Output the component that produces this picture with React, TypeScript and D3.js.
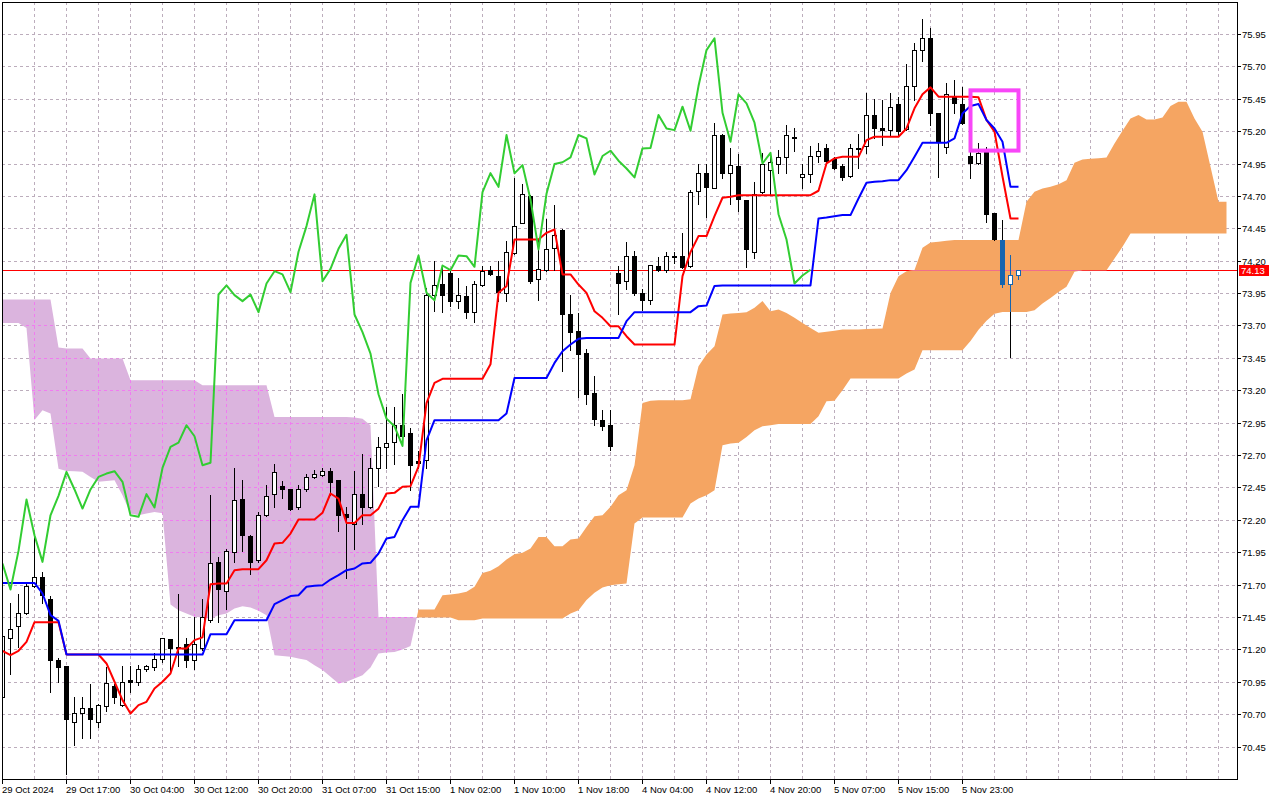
import * as d3 from "d3";

// hourly candles, 29 Oct 2024 .. 5 Nov 2024
const opens = [
  70.83, 71.29, 71.38, 71.48, 71.69, 71.755, 71.59, 71.12, 71.07, 70.636,
  70.705, 70.744, 70.641, 70.762, 70.916, 70.769, 70.967, 70.95, 71.052, 71.065,
  71.122, 71.276, 71.218, 71.24, 71.117, 71.207, 71.43, 71.875, 71.652, 71.953,
  72.364, 72.073, 71.888, 72.235, 72.398, 72.462, 72.434, 72.295, 72.434, 72.531,
  72.544, 72.575, 72.506, 72.243, 72.171, 72.398, 72.3, 72.6, 72.763, 72.8,
  72.93, 72.871, 72.65, 72.66, 73.939, 74.024, 74.106, 73.888, 73.931, 73.803,
  74.009, 74.127, 74.081, 73.952, 74.261, 74.493, 74.7, 74.06, 74.132, 74.3,
  74.435, 73.792, 73.656, 73.488, 73.179, 72.974, 72.93, 74.106, 74.042, 74.24,
  73.952, 73.895, 74.158, 74.127, 74.24, 74.235, 74.158, 74.737, 74.88, 74.765,
  75.17, 74.88, 74.93, 74.668, 74.269, 74.73, 74.9, 74.946, 74.997, 75.157,
  74.843, 74.869, 75.008, 75.067, 74.982, 74.93, 74.853, 75.065, 75.085, 75.324,
  75.226, 75.208, 75.409, 75.214, 75.548, 75.826, 75.917, 75.337, 75.075, 75.474,
  75.409, 75.008, 74.951, 75.059, 74.565, 74.359, 74.019, 74.09,
];
const highs = [
  71.35, 71.56, 71.63, 71.72, 72.07, 71.8, 71.61, 71.13, 71.07, 70.83,
  70.834, 70.932, 70.78, 71.06, 70.932, 71.07, 71.07, 71.078, 71.078, 71.173,
  71.29, 71.28, 71.626, 71.284, 71.446, 71.585, 72.39, 71.914, 71.978, 72.596,
  72.511, 72.08, 72.26, 72.467, 72.634, 72.5, 72.44, 72.467, 72.552, 72.583,
  72.6, 72.596, 72.51, 72.295, 72.578, 72.711, 72.68, 72.84, 73.071, 73.07,
  73.17, 72.912, 72.732, 73.99, 74.197, 74.158, 74.12, 74.068, 74.003, 74.042,
  74.158, 74.158, 74.197, 74.351, 74.84, 74.789, 74.71, 74.364, 74.519, 74.63,
  74.445, 73.939, 73.797, 73.519, 73.313, 73.046, 73.051, 74.158, 74.343, 74.274,
  73.978, 74.163, 74.23, 74.266, 74.27, 74.415, 74.745, 74.95, 74.95, 75.265,
  75.175, 75.067, 75.023, 74.67, 74.81, 75.03, 75.04, 75.054, 75.247, 75.221,
  74.95, 75.085, 75.105, 75.1, 75.0, 74.95, 75.1, 75.177, 75.497, 75.445,
  75.44, 75.492, 75.46, 75.718, 75.883, 76.063, 76.0, 75.34, 75.574, 75.595,
  75.538, 75.067, 75.105, 75.08, 74.57, 74.513, 74.243, 74.132,
];
const lows = [
  70.8, 71.01, 71.22, 71.47, 71.68, 71.56, 70.87, 70.95, 70.24, 70.46,
  70.512, 70.512, 70.597, 70.723, 70.782, 70.76, 70.872, 70.924, 71.034, 71.04,
  71.104, 71.014, 71.07, 71.065, 71.045, 71.194, 71.41, 71.41, 71.515, 71.875,
  71.96, 71.785, 71.875, 72.23, 72.3, 72.372, 72.274, 72.287, 72.423, 72.525,
  72.54, 72.39, 72.115, 71.747, 71.971, 72.166, 72.29, 72.459, 72.6, 72.634,
  72.79, 72.428, 72.596, 72.596, 73.81, 73.803, 73.854, 73.836, 73.759, 73.725,
  74.003, 74.09, 73.888, 73.888, 74.248, 74.49, 74.029, 73.9, 74.119, 74.132,
  73.347, 73.514, 73.15, 73.097, 72.93, 72.891, 72.737, 73.785, 73.978, 73.939,
  73.823, 73.862, 74.12, 74.112, 74.18, 74.145, 74.15, 74.64, 74.54, 74.76,
  74.835, 74.637, 74.585, 74.153, 74.22, 74.72, 74.706, 74.879, 74.874, 75.049,
  74.758, 74.81, 74.964, 74.965, 74.905, 74.822, 74.85, 74.912, 75.033, 75.144,
  75.092, 75.162, 75.17, 75.21, 75.44, 75.744, 75.247, 74.848, 75.033, 75.337,
  75.255, 74.835, 74.946, 74.5, 74.359, 73.998, 73.457, 74.055,
];
const closes = [
  71.3, 71.36, 71.48, 71.69, 71.755, 71.62, 71.12, 71.065, 70.66, 70.705,
  70.744, 70.659, 70.769, 70.944, 70.829, 70.95, 70.95, 71.052, 71.073, 71.122,
  71.284, 71.207, 71.207, 71.117, 71.24, 71.446, 71.863, 71.662, 71.96, 72.356,
  72.081, 71.875, 72.235, 72.385, 72.57, 72.434, 72.287, 72.434, 72.531, 72.557,
  72.575, 72.493, 72.235, 72.223, 72.398, 72.295, 72.6, 72.763, 72.796, 72.93,
  72.845, 72.621, 72.64, 73.939, 74.009, 73.934, 73.888, 73.939, 73.803, 74.024,
  74.119, 74.094, 73.957, 74.269, 74.467, 74.712, 74.042, 74.137, 74.292, 74.4,
  73.785, 73.648, 73.483, 73.169, 72.981, 72.922, 72.77, 74.029, 74.24, 73.952,
  73.895, 74.163, 74.127, 74.24, 74.235, 74.153, 74.73, 74.876, 74.77, 75.17,
  74.874, 74.938, 74.673, 74.287, 74.716, 74.946, 74.96, 74.997, 75.17, 75.144,
  74.866, 75.008, 75.049, 74.972, 74.912, 74.843, 75.067, 75.07, 75.324, 75.221,
  75.208, 75.389, 75.203, 75.548, 75.826, 75.917, 75.342, 75.118, 75.484, 75.414,
  75.265, 74.951, 75.033, 74.559, 74.364, 74.024, 74.086, 74.13,
];

// Ichimoku lines
const tenkan = [
  71.189, 71.155, 71.189, 71.258, 71.41, 71.41, 71.41, 71.41, 71.16, 71.16,
  71.16, 71.16, 71.16, 71.091, 70.95, 70.808, 70.705, 70.769, 70.795, 70.898,
  70.95, 71.014, 71.207, 71.207, 71.271, 71.292, 71.703, 71.708, 71.708, 71.811,
  71.819, 71.819, 71.819, 71.888, 72.017, 72.022, 72.094, 72.202, 72.202, 72.202,
  72.254, 72.403, 72.364, 72.176, 72.176, 72.235, 72.235, 72.286, 72.403, 72.408,
  72.455, 72.459, 72.61, 73.1, 73.257, 73.288, 73.288, 73.288, 73.288, 73.288,
  73.288, 73.4, 73.952, 74.003, 74.364, 74.364, 74.364, 74.364, 74.415, 74.441,
  74.094, 74.094, 74.016, 73.952, 73.81, 73.759, 73.694, 73.694, 73.617, 73.553,
  73.553, 73.553, 73.553, 73.553, 73.553, 74.081, 74.266, 74.39, 74.39, 74.544,
  74.686, 74.693, 74.706, 74.706, 74.706, 74.706, 74.706, 74.706, 74.706, 74.706,
  74.706, 74.706, 74.74, 74.951, 74.99, 75.002, 75.002, 75.002, 75.131, 75.157,
  75.157, 75.157, 75.157, 75.221, 75.376, 75.484, 75.538, 75.466, 75.466, 75.466,
  75.466, 75.466, 75.461, 75.286, 75.196, 74.85, 74.526, 74.526,
];
const kijun = [
  71.713, 71.713, 71.713, 71.713, 71.713, 71.631, 71.464, 71.42, 71.16, 71.16,
  71.16, 71.16, 71.16, 71.16, 71.16, 71.16, 71.16, 71.16, 71.16, 71.16,
  71.16, 71.16, 71.16, 71.16, 71.16, 71.16, 71.317, 71.317, 71.317, 71.425,
  71.425, 71.425, 71.425, 71.425, 71.549, 71.58, 71.611, 71.618, 71.683, 71.69,
  71.695, 71.739, 71.773, 71.811, 71.824, 71.863, 71.868, 71.94, 72.056, 72.068,
  72.197, 72.3, 72.3, 72.814, 72.969, 72.969, 72.969, 72.969, 72.969, 72.969,
  72.969, 72.969, 72.969, 73.02, 73.295, 73.295, 73.295, 73.295, 73.295, 73.411,
  73.501, 73.553, 73.597, 73.604, 73.604, 73.604, 73.604, 73.604, 73.733, 73.803,
  73.803, 73.803, 73.803, 73.803, 73.803, 73.803, 73.803, 73.849, 73.854, 74.005,
  74.009, 74.009, 74.009, 74.009, 74.009, 74.009, 74.009, 74.009, 74.009, 74.009,
  74.009, 74.009, 74.526, 74.534, 74.544, 74.552, 74.552, 74.68, 74.802, 74.81,
  74.814, 74.822, 74.822, 74.899, 75.002, 75.11, 75.11, 75.11, 75.11, 75.144,
  75.337, 75.394, 75.409, 75.286, 75.221, 75.118, 74.77, 74.77,
];
// senkou spans, 26 bars past the last candle
const spanA = [
  73.72, 73.72, 73.72, 73.68, 72.97, 73.046, 73.02, 72.595, 72.577, 72.575,
  72.57, 72.531, 72.493, 72.5, 72.506, 72.39, 72.248, 72.235, 72.248, 72.26,
  72.25, 71.547, 71.502, 71.477, 71.451, 71.446, 71.438, 71.464, 71.477, 71.515,
  71.533, 71.523, 71.497, 71.464, 71.155, 71.148, 71.142, 71.13, 71.117, 71.078,
  71.04, 70.988, 70.937, 70.95, 70.975, 71.0, 71.06, 71.168, 71.175, 71.18,
  71.199, 71.225, 71.508, 71.508, 71.508, 71.618, 71.623, 71.631, 71.644, 71.683,
  71.79, 71.806, 71.842, 71.893, 71.935, 71.945, 71.978, 72.068, 72.068, 71.996,
  71.996, 72.048, 72.055, 72.145, 72.228, 72.236, 72.3, 72.39, 72.428, 72.621,
  73.102, 73.118, 73.123, 73.123, 73.123, 73.123, 73.13, 73.385, 73.476, 73.54,
  73.785, 73.792, 73.797, 73.803, 73.836, 73.888, 73.81, 73.823, 73.797, 73.759,
  73.72, 73.68, 73.643, 73.652, 73.66, 73.669, 73.669, 73.669, 73.672, 73.675,
  73.676, 73.95, 74.08, 74.118, 74.128, 74.3, 74.34, 74.346, 74.354, 74.359,
  74.359, 74.359, 74.359, 74.359, 74.359, 74.359, 74.359, 74.359, 74.655, 74.732,
  74.758, 74.771, 74.791, 74.822, 74.956, 74.982, 74.987, 74.99, 74.997, 75.105,
  75.203, 75.298, 75.324, 75.29, 75.29, 75.306, 75.394, 75.427, 75.427, 75.298,
  75.196, 74.925, 74.655, 74.655,
];
const spanB = [
  73.9, 73.9, 73.9, 73.9, 73.9, 73.9, 73.9, 73.53, 73.522, 73.522,
  73.522, 73.445, 73.445, 73.445, 73.445, 73.445, 73.277, 73.277, 73.277, 73.277,
  73.277, 73.277, 73.277, 73.277, 73.277, 73.239, 73.239, 73.239, 73.239, 73.239,
  73.239, 73.239, 73.239, 73.239, 72.994, 72.994, 72.994, 72.994, 72.994, 72.994,
  72.994, 72.994, 72.994, 72.994, 72.99, 72.98, 72.93, 71.449, 71.449, 71.449,
  71.449, 71.449, 71.446, 71.446, 71.446, 71.446, 71.446, 71.425, 71.425, 71.425,
  71.438, 71.438, 71.438, 71.438, 71.438, 71.438, 71.438, 71.438, 71.438, 71.438,
  71.438, 71.477, 71.502, 71.58, 71.636, 71.677, 71.695, 71.703, 71.708, 72.171,
  72.218, 72.218, 72.218, 72.218, 72.218, 72.218, 72.326, 72.364, 72.39, 72.428,
  72.776, 72.788, 72.794, 72.84, 72.891, 72.922, 72.93, 72.94, 72.94, 72.94,
  72.94, 72.94, 73.0, 73.115, 73.118, 73.2, 73.29, 73.29, 73.29, 73.29,
  73.29, 73.29, 73.29, 73.33, 73.36, 73.509, 73.509, 73.509, 73.509, 73.509,
  73.509, 73.58, 73.667, 73.737, 73.79, 73.805, 73.805, 73.805, 73.805, 73.818,
  73.869, 73.913, 73.959, 73.998, 74.114, 74.127, 74.127, 74.127, 74.127, 74.217,
  74.307, 74.41, 74.41, 74.41, 74.41, 74.41, 74.41, 74.41, 74.41, 74.41,
  74.41, 74.41, 74.41, 74.41,
];
const chikouShift = 26;

const timeLabels = [
  "29 Oct 2024", "29 Oct 17:00", "30 Oct 04:00", "30 Oct 12:00", "30 Oct 20:00",
  "31 Oct 07:00", "31 Oct 15:00", "1 Nov 02:00", "1 Nov 10:00", "1 Nov 18:00",
  "4 Nov 04:00", "4 Nov 12:00", "4 Nov 20:00", "5 Nov 07:00", "5 Nov 15:00", "5 Nov 23:00",
];
const labelEvery = 8;
const priceTicks = [
  70.45, 70.7, 70.95, 71.2, 71.45, 71.7, 71.95, 72.2, 72.45, 72.7, 72.95, 73.2,
  73.45, 73.7, 73.95, 74.2, 74.45, 74.7, 74.95, 75.2, 75.45, 75.7, 75.95,
];
const bidPrice = 74.13;
const highlightBars = [125, 126, 127];
const markBox = { from: 121, to: 127, top: 75.515, bottom: 75.05 };

const font = "'Liberation Sans', Arial, sans-serif";
const left = 2, top = 2, right = 1237, bottom = 779;

type Pt = { i: number; a: number; b: number };

// split the cloud where the spans cross
function cloudPieces(a: number[], b: number[]) {
  const pieces: { up: boolean; pts: Pt[] }[] = [];
  let cur = { up: a[0] >= b[0], pts: [{ i: 0, a: a[0], b: b[0] }] as Pt[] };
  for (let k = 1; k < a.length; k++) {
    const up = a[k] >= b[k];
    if (up !== cur.up) {
      const d0 = a[k - 1] - b[k - 1];
      const d1 = a[k] - b[k];
      const t = d0 / (d0 - d1);
      const v = a[k - 1] + t * (a[k] - a[k - 1]);
      const p = { i: k - 1 + t, a: v, b: v };
      cur.pts.push(p);
      pieces.push(cur);
      cur = { up, pts: [p] };
    }
    cur.pts.push({ i: k, a: a[k], b: b[k] });
  }
  pieces.push(cur);
  return pieces;
}

function Candle({ i, color, x, y }: { i: number; color: string; x: any; y: any }) {
  const o = opens[i], c = closes[i];
  const cx = x(i);
  const t = Math.round(y(Math.max(o, c)));
  const b = Math.round(y(Math.min(o, c)));
  const h = Math.max(b - t, 1);
  return (
    <g>
      <line x1={cx} x2={cx} y1={Math.round(y(highs[i]))} y2={Math.round(y(lows[i])) + 1} stroke={color} />
      {c >= o ? (
        <rect x={cx - 2} y={t + 0.5} width={4} height={h} fill="#fff" stroke={color} />
      ) : (
        <rect x={cx - 2.5} y={t} width={5} height={h + 1} fill={color} />
      )}
    </g>
  );
}

export default function App() {
  const x = d3.scaleLinear().domain([0, 154]).range([2.5, 2.5 + 154 * 8]);
  const y = d3.scaleLinear().domain([70.45, 75.95]).range([746.5, 34]);

  const pieces = cloudPieces(spanA, spanB);
  const area = d3.area<Pt>().x((d) => x(d.i)).y0((d) => y(d.a)).y1((d) => y(d.b));
  const line = (vals: number[]) =>
    d3.line<number>().x((_, i) => x(i)).y((d) => y(d))(vals) || "";
  const chikou = closes.slice(chikouShift);

  const gridBars = d3.range(4, 154, 4);
  const hy = (p: number) => Math.round(y(p)) + 0.5;
  const bidY = hy(bidPrice);

  const grid = (color: string) => (
    <g stroke={color} strokeDasharray="3,3" shapeRendering="crispEdges">
      {priceTicks.map((p) => (
        <line key={`h${p}`} x1={left} x2={right} y1={hy(p)} y2={hy(p)} />
      ))}
      {gridBars.map((b) => (
        <line key={`v${b}`} x1={x(b)} x2={x(b)} y1={top} y2={bottom} />
      ))}
    </g>
  );

  return (
    <svg
      width={1280}
      height={800}
      style={{ position: "absolute", left: 0, top: 0, background: "#fff" }}
      fontFamily={font}
    >
      <defs>
        <clipPath id="plot">
          <rect x={left} y={top} width={right - left} height={bottom - top} />
        </clipPath>
        <clipPath id="cloud">
          {pieces.map((p, k) => <path key={k} d={area(p.pts) || ""} />)}
        </clipPath>
        <clipPath id="cloudDown">
          {pieces.filter((p) => !p.up).map((p, k) => <path key={k} d={area(p.pts) || ""} />)}
        </clipPath>
      </defs>

      <rect width={1280} height={800} fill="#fff" />

      <g clipPath="url(#plot)">
        {grid("#bcadbc")}
        <line x1={left} x2={right} y1={bidY} y2={bidY} stroke="#ff0000" shapeRendering="crispEdges" />

        {pieces.map((p, k) => (
          <path key={k} d={area(p.pts) || ""} fill={p.up ? "#f5a562" : "#dbb4de"} />
        ))}
        <g clipPath="url(#cloudDown)">{grid("#f07cf0")}</g>
        <g clipPath="url(#cloud)">
          <line x1={left} x2={right} y1={bidY} y2={bidY} stroke="#f06e8c" shapeRendering="crispEdges" />
        </g>

        <g shapeRendering="crispEdges">
          {opens.map((_, i) => <Candle key={i} i={i} color="#000" x={x} y={y} />)}
        </g>
        <g clipPath="url(#cloud)" shapeRendering="crispEdges">
          {highlightBars.map((i) => <Candle key={i} i={i} color="#1565b0" x={x} y={y} />)}
        </g>

        <g fill="none" strokeWidth={2} strokeLinejoin="round">
          <path d={line(tenkan)} stroke="#ff0000" />
          <path d={line(kijun)} stroke="#0000ff" />
          <path d={line(chikou)} stroke="#32cd32" />
        </g>

        <rect
          x={x(markBox.from)}
          y={y(markBox.top)}
          width={x(markBox.to) - x(markBox.from)}
          height={y(markBox.bottom) - y(markBox.top)}
          fill="none"
          stroke="#f846f8"
          strokeWidth={4}
        />
      </g>

      <rect x={left + 0.5} y={top + 0.5} width={right - left} height={bottom - top} fill="none" stroke="#000" shapeRendering="crispEdges" />

      <g fontSize={9.5} fill="#000">
        {priceTicks.map((p) => (
          <g key={p}>
            <line x1={right} x2={right + 4} y1={hy(p)} y2={hy(p)} stroke="#000" shapeRendering="crispEdges" />
            <text x={right + 5} y={hy(p)} dy="0.35em">{p.toFixed(2)}</text>
          </g>
        ))}
        <rect x={right + 2} y={bidY - 5.5} width={30} height={11} fill="#ff0000" />
        <text x={right + 4} y={bidY} dy="0.35em" fill="#fff">{bidPrice.toFixed(2)}</text>

        {timeLabels.map((t, k) => {
          const bx = x(k * labelEvery);
          return (
            <g key={t}>
              <line x1={bx} x2={bx} y1={bottom} y2={bottom + 5} stroke="#000" shapeRendering="crispEdges" />
              <text x={bx - 0.5} y={793}>{t}</text>
            </g>
          );
        })}
      </g>
    </svg>
  );
}
